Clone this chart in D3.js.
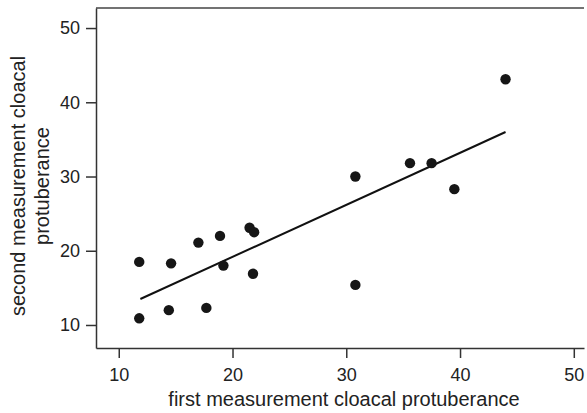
<!DOCTYPE html>
<html>
<head>
<meta charset="utf-8">
<script src="https://cdn.jsdelivr.net/npm/d3@7"></script>
<style>
  body { margin: 0; background: #fff; }
  #chart { width: 587px; height: 413px; }
  text { font-family: "Liberation Sans", Arial, sans-serif; fill: #222; }
</style>
</head>
<body>
<div id="chart"></div>
<script>
// data
const firstMeasure  = [11.8, 11.8, 14.6, 14.4, 17.0, 18.9, 17.7, 19.2, 21.5, 21.9, 21.8, 30.8, 30.8, 35.6, 37.5, 39.5, 44.0];
const secondMeasure = [18.5, 10.9, 18.3, 12.0, 21.1, 22.0, 12.3, 18.0, 23.1, 22.5, 16.9, 30.0, 15.4, 31.8, 31.8, 28.3, 43.1];
const fitX = [11.9, 44.0];
const fitY = [13.5, 36.0];
const xTicks = [10, 20, 30, 40, 50];
const yTicks = [10, 20, 30, 40, 50];

const width = 587, height = 413;
const margin = { top: 8, left: 96, right: 3, bottom: 65 };

const svg = d3.select("#chart")
  .append("svg")
  .attr("width", width)
  .attr("height", height);

const xScale = d3.scaleLinear()
  .domain([8, 10 + (width - margin.right - 119) / 11.37])
  .range([margin.left, width - margin.right]);

const yScale = d3.scaleLinear()
  .domain([6.9, 52.7])
  .range([height - margin.bottom, margin.top]);

// frame: top line (no right border)
svg.append("line")
  .attr("x1", margin.left).attr("x2", width - margin.right)
  .attr("y1", margin.top).attr("y2", margin.top)
  .attr("stroke", "#444").attr("stroke-width", 1.5);

const xAxis = svg.append("g")
  .attr("transform", `translate(0,${height - margin.bottom})`)
  .call(d3.axisBottom(xScale).tickValues(xTicks).tickSize(10).tickSizeOuter(0).tickPadding(10));

const yAxis = svg.append("g")
  .attr("transform", `translate(${margin.left},0)`)
  .call(d3.axisLeft(yScale).tickValues(yTicks).tickSize(10).tickSizeOuter(0).tickPadding(6));

[xAxis, yAxis].forEach(function(ax) {
  ax.select(".domain").attr("stroke", "#333").attr("stroke-width", 1.5);
  ax.selectAll(".tick line").attr("stroke", "#333").attr("stroke-width", 1.5);
  ax.selectAll(".tick text").attr("font-size", 18).attr("fill", "#222")
    .style("font-family", "'Liberation Sans', Arial, sans-serif");
});

// fitted line
svg.append("line")
  .attr("x1", xScale(fitX[0])).attr("y1", yScale(fitY[0]))
  .attr("x2", xScale(fitX[1])).attr("y2", yScale(fitY[1]))
  .attr("stroke", "#111").attr("stroke-width", 2);

// points
svg.selectAll(".dot")
  .data(firstMeasure)
  .enter()
  .append("circle")
    .attr("class", "dot")
    .attr("cx", d => xScale(d))
    .attr("cy", (d, i) => yScale(secondMeasure[i]))
    .attr("r", 5.2)
    .attr("fill", "#161616");

// axis labels
svg.append("text")
  .attr("x", 344)
  .attr("y", 406)
  .attr("text-anchor", "middle")
  .attr("font-size", 20)
  .text("first measurement cloacal protuberance");

const yLabel = svg.append("text")
  .attr("transform", "rotate(-90)")
  .attr("text-anchor", "middle")
  .attr("font-size", 20);

yLabel.append("tspan").attr("x", -186).attr("y", 25).text("second measurement cloacal");
yLabel.append("tspan").attr("x", -186).attr("y", 49).text("protuberance");
</script>
</body>
</html>
